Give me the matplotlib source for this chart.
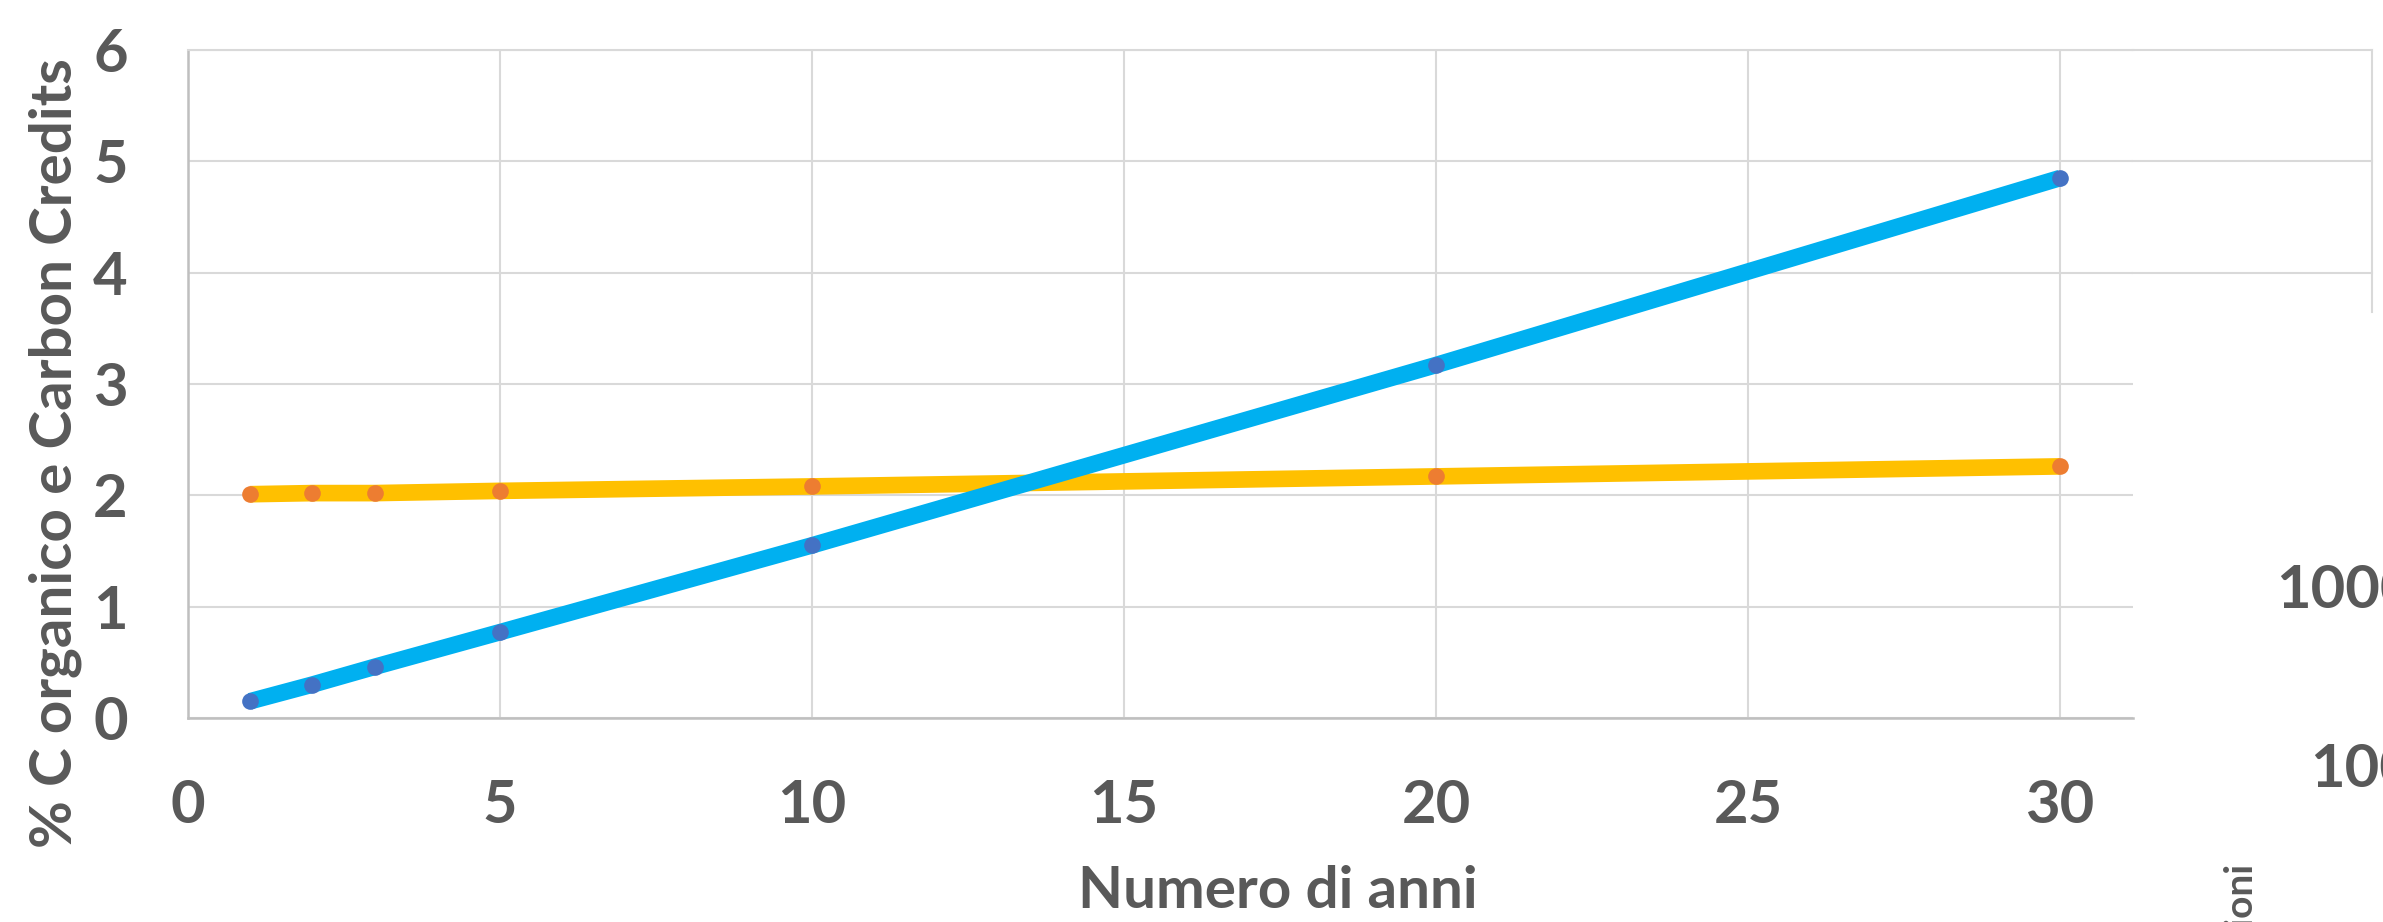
import matplotlib.pyplot as plt

# years since start of the practice
anni = [1, 2, 3, 5, 10, 20, 30]
# % organic carbon in soil
carbonio = [2.01, 2.02, 2.02, 2.04, 2.08, 2.17, 2.26]
# carbon credits accumulated
crediti = [0.15, 0.30, 0.46, 0.77, 1.55, 3.17, 4.85]

x_ticks = [0, 5, 10, 15, 20, 25, 30]
y_ticks = [0, 1, 2, 3, 4, 5, 6]
# labels of the chart lying behind this one
behind_labels = ["10000", "1000"]
behind_title = "emissioni"

W, H = 2383, 922
grey = "#595959"
grid = "#D9D9D9"

plt.rcParams['font.family'] = ['Lato', 'DejaVu Sans']

fig = plt.figure(figsize=(W / 100, H / 100), dpi=100)
ax = fig.add_axes([187.5 / W, 1 - 718 / H, (2133 - 187.5) / W, (718 - 50) / H])

ax.plot(anni, carbonio, color="#FFC000", lw=12, solid_capstyle="butt", zorder=3)
ax.plot(anni, crediti, color="#00B0F0", lw=12, solid_capstyle="butt", zorder=4)
ax.plot(anni, carbonio, "o", color="#ED7D31", ms=12, mec="none", zorder=5)
ax.plot(anni, crediti, "o", color="#4472C4", ms=12, mec="none", zorder=5)

xmax = (2133 - 187.5) / 62.42
ax.set_xlim(0, xmax)
ax.set_ylim(0, 6)
ax.set_xticks(x_ticks)
ax.set_yticks(y_ticks)
ax.grid(True, color=grid, lw=1.5, zorder=0)
ax.tick_params(length=0, labelsize=43, labelcolor=grey)
ax.tick_params(axis="x", pad=44)
ax.tick_params(axis="y", pad=43)
for lab in ax.get_xticklabels() + ax.get_yticklabels():
    lab.set_fontweight("bold")

ax.spines["right"].set_visible(False)
ax.spines["top"].set_color(grid)
ax.spines["top"].set_linewidth(1.5)
for s in ["left", "bottom"]:
    ax.spines[s].set_color("#BFBFBF")
    ax.spines[s].set_linewidth(1.8)

# gridlines of the other chart showing past the right edge
for yv in y_ticks[4:]:
    ax.plot([xmax, 35], [yv, yv], color=grid, lw=1.5, clip_on=False, zorder=0)
ax.plot([35, 35], [3.65, 6], color=grid, lw=1.5, clip_on=False, zorder=0)

fig.text(1278 / W, 1 - 908 / H, "Numero di anni", ha="center", va="baseline",
         fontsize=42, fontweight="bold", color=grey)
fig.text(72 / W, 1 - 453 / H, "% C organico e Carbon Credits", rotation=90,
         rotation_mode="anchor", ha="center", va="baseline",
         fontsize=42, fontweight="bold", color=grey)

for lab, yp in zip(behind_labels, [591, 770]):
    fig.text(2449 / W, 1 - yp / H, lab, ha="right", va="center",
             fontsize=43, fontweight="bold", color=grey)
fig.text(2252 / W, 1 - 862 / H, behind_title, rotation=90, rotation_mode="anchor",
         ha="right", va="baseline", fontsize=28, fontweight="bold", color=grey)

fig.savefig("out.png", dpi=100)
